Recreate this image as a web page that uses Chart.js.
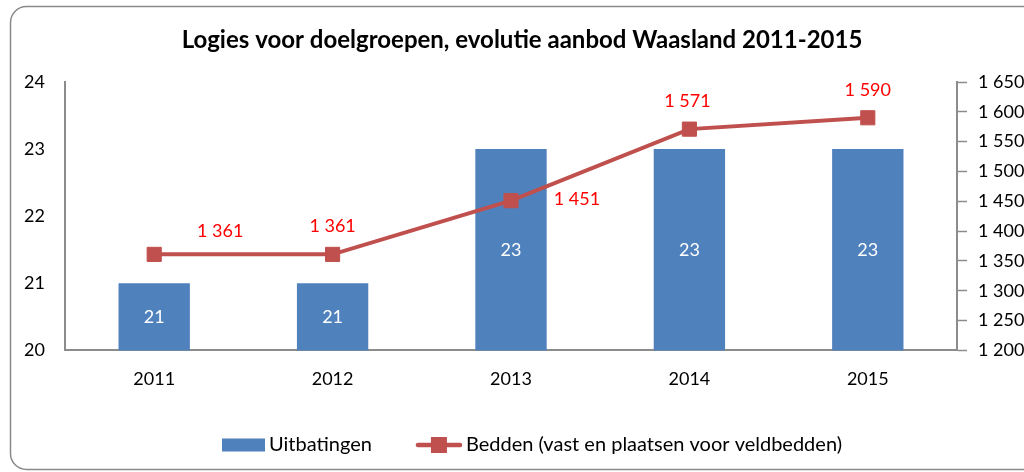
<!DOCTYPE html>
<html>
<head>
<meta charset="utf-8">
<title>Logies voor doelgroepen</title>
<script src="https://cdn.jsdelivr.net/npm/chart.js@4.4.0/dist/chart.umd.min.js"></script>
<style>
  html, body { margin: 0; padding: 0; background: #fff; }
  #wrap { width: 1024px; height: 472px; }
</style>
</head>
<body>
<div id="wrap"><canvas id="chart" width="1024" height="472"></canvas></div>
<script>
const years = ['2011', '2012', '2013', '2014', '2015'];
const uitbatingen = [21, 21, 23, 23, 23];
const bedden = [1361, 1361, 1451, 1571, 1590];
const leftTicks = [20, 21, 22, 23, 24];
const rightTicks = [1200, 1250, 1300, 1350, 1400, 1450, 1500, 1550, 1600, 1650];

// where Excel put the red labels, relative to each point
const beddenLabelOffsets = [[66, -23], [0, -28], [66, -2], [-2, -28], [0, -28]];

const barColor = '#4F81BD';
const lineColor = '#C0504D';
const axisColor = '#8c8c8c';
const font = 'Lato';

const legendFontSize = 20;
const legendPad = 27;
const legendBoxW = 94 - legendPad - legendFontSize / 2;

const fmt = n => String(n).replace(/\B(?=(\d{3})+(?!\d))/g, ' ');

function makeIcon(kind) {
  const w = legendBoxW + legendFontSize - 8, h = 18;
  const c = document.createElement('canvas');
  c.width = w; c.height = h;
  const g = c.getContext('2d');
  if (kind === 'bar') {
    g.fillStyle = barColor;
    g.fillRect(w - 43, (h - 13) / 2, 43, 13);
  } else {
    g.strokeStyle = lineColor;
    g.lineWidth = 4.5;
    g.lineCap = 'round';
    g.beginPath();
    g.moveTo(w - 44, h / 2);
    g.lineTo(w - 2, h / 2);
    g.stroke();
    g.fillStyle = lineColor;
    g.fillRect(w - 23 - 8, h / 2 - 8, 16, 16);
  }
  return c;
}
const legendIcons = [makeIcon('bar'), makeIcon('line')];

const frame = {
  id: 'frame',
  beforeDraw(chart) {
    const ctx = chart.ctx;
    ctx.save();
    ctx.strokeStyle = '#8a8a8a';
    ctx.lineWidth = 1.5;
    ctx.beginPath();
    ctx.roundRect(10.5, 6.5, 1100, 463, 16);
    ctx.stroke();
    ctx.restore();
  }
};

const valueLabels = {
  id: 'valueLabels',
  afterDatasetsDraw(chart) {
    const ctx = chart.ctx;
    const yScale = chart.scales.y;
    ctx.save();
    ctx.font = '18px ' + font;
    ctx.textAlign = 'center';
    ctx.textBaseline = 'middle';
    ctx.fillStyle = '#ffffff';
    chart.getDatasetMeta(0).data.forEach((bar, i) => {
      const p = bar.getProps(['x', 'y'], true);
      const bottom = yScale.getPixelForValue(yScale.min);
      ctx.fillText(String(uitbatingen[i]), p.x, (p.y + bottom) / 2);
    });
    ctx.fillStyle = '#ff0000';
    chart.getDatasetMeta(1).data.forEach((pt, i) => {
      const [dx, dy] = beddenLabelOffsets[i];
      ctx.fillText(fmt(bedden[i]), pt.x + dx, pt.y + dy);
    });
    ctx.restore();
  }
};

new Chart(document.getElementById('chart'), {
  type: 'bar',
  data: {
    labels: years,
    datasets: [{
      type: 'bar',
      label: 'Uitbatingen',
      data: uitbatingen,
      backgroundColor: barColor,
      yAxisID: 'y',
      order: 2,
      categoryPercentage: 1,
      barPercentage: 0.4
    }, {
      type: 'line',
      label: 'Bedden (vast en plaatsen voor veldbedden)',
      data: bedden,
      borderColor: lineColor,
      borderWidth: 4,
      tension: 0,
      pointStyle: 'rect',
      pointRadius: 10,
      pointBackgroundColor: lineColor,
      pointBorderColor: lineColor,
      pointBorderWidth: 1,
      yAxisID: 'y1',
      order: 1
    }]
  },
  options: {
    responsive: false,
    animation: false,
    layout: { padding: { left: 20, right: 0, top: 0, bottom: 7 } },
    scales: {
      x: {
        grid: { display: false, drawTicks: false },
        border: { display: true, color: axisColor, width: 2 },
        ticks: { padding: 18, color: '#000', font: { family: font, size: 18 } }
      },
      y: {
        position: 'left',
        min: leftTicks[0],
        max: leftTicks[leftTicks.length - 1],
        afterBuildTicks: axis => { axis.ticks = leftTicks.map(v => ({ value: v })); },
        afterFit: axis => { axis.width = 45; },
        grid: { display: false, drawTicks: false },
        border: { display: true, color: axisColor, width: 2 },
        ticks: { padding: 20, color: '#000', font: { family: font, size: 18 } }
      },
      y1: {
        position: 'right',
        min: rightTicks[0],
        max: rightTicks[rightTicks.length - 1],
        afterBuildTicks: axis => { axis.ticks = rightTicks.map(v => ({ value: v })); },
        afterFit: axis => { axis.width = 67; },
        grid: { display: true, drawOnChartArea: false, drawTicks: true, tickLength: 10, color: axisColor, tickColor: axisColor, tickWidth: 1.5 },
        border: { display: true, color: axisColor, width: 2 },
        ticks: { padding: 11, color: '#000', font: { family: font, size: 18 }, callback: v => fmt(v) }
      }
    },
    plugins: {
      title: {
        display: true,
        text: 'Logies voor doelgroepen, evolutie aanbod Waasland 2011-2015',
        color: '#000',
        font: { family: font, size: 24, weight: 'bold' },
        padding: { top: 25.6, bottom: 27.6 }
      },
      legend: {
        position: 'bottom',
        labels: {
          usePointStyle: true,
          pointStyleWidth: legendBoxW,
          padding: legendPad,
          color: '#000',
          font: { family: font, size: legendFontSize },
          generateLabels: chart => {
            const items = Chart.defaults.plugins.legend.labels.generateLabels(chart);
            items.sort((a, b) => a.datasetIndex - b.datasetIndex);
            items.forEach(it => { it.pointStyle = legendIcons[it.datasetIndex]; });
            return items;
          }
        }
      },
      tooltip: { enabled: false }
    }
  },
  plugins: [frame, valueLabels]
});
</script>
</body>
</html>
